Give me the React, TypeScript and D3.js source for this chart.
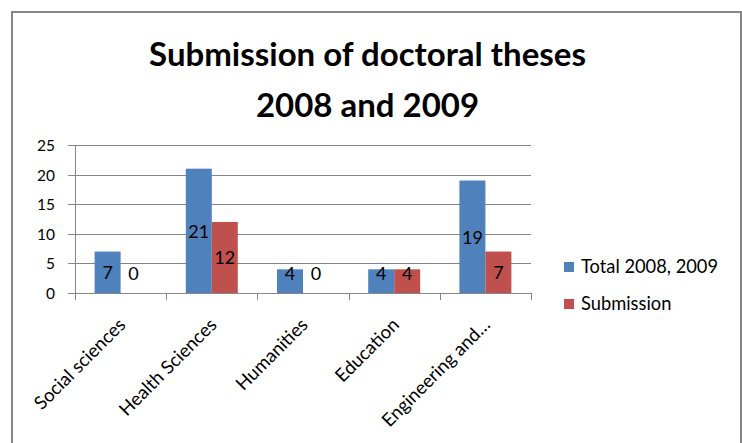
import React from "react";
import * as d3 from "d3";

const categories = ["Social sciences", "Health Sciences", "Humanities", "Education", "Engineering and…"];
const seriesNames = ["Total 2008, 2009", "Submission"];
const totalValues = [7, 21, 4, 4, 19];
const submissionValues = [0, 12, 0, 4, 7];
const seriesColors = ["#4F81BD", "#C0504D"];
const yTicks = [0, 5, 10, 15, 20, 25];
const titleLines = ["Submission of doctoral theses", "2008 and 2009"];

const FONT = "Lato, 'Open Sans', sans-serif";

export default function App() {
  const W = 742, H = 443;
  const left = 75, right = 531, top = 145, bottom = 293;
  const x0 = d3.scaleBand<string>().domain(categories).range([left, right]).paddingInner(0.43).paddingOuter(0.215);
  const x1 = d3.scaleBand<string>().domain(seriesNames).range([0, x0.bandwidth()]);
  const y = d3.scaleLinear().domain([0, 25]).range([bottom, top]);
  const step = x0.step();
  const series = [totalValues, submissionValues];
  const grid = "#868686";

  return (
    <div style={{ position: "fixed", left: 0, top: 0 }}>
      <svg width={W} height={H} style={{ display: "block", background: "#fff" }}>
        <rect x={12} y={12} width={729} height={H} fill="#fff" stroke={grid} strokeWidth={2} />
        {titleLines.map((t, i) => (
          <text key={i} x={367.5} y={66 + i * 51} textAnchor="middle" fontFamily={FONT} fontWeight="bold" fontSize={33} fill="#000">
            {t}
          </text>
        ))}
        {yTicks.map((v) => (
          <g key={v}>
            <line x1={68} x2={right} y1={Math.round(y(v)) + 0.5} y2={Math.round(y(v)) + 0.5} stroke={grid} strokeWidth={1} />
            <text x={55} y={y(v)} textAnchor="end" dominantBaseline="central" fontFamily={FONT} fontSize={15.5} fill="#000">
              {v}
            </text>
          </g>
        ))}
        <line x1={left + 0.5} x2={left + 0.5} y1={top} y2={bottom} stroke={grid} strokeWidth={1} />
        {d3.range(categories.length + 1).map((i) => (
          <line key={i} x1={Math.round(left + i * step) + 0.5} x2={Math.round(left + i * step) + 0.5} y1={bottom} y2={bottom + 7} stroke={grid} strokeWidth={1} />
        ))}
        {categories.map((c, ci) => (
          <g key={c}>
            {series.map((vals, si) => {
              const bx = (x0(c) as number) + (x1(seriesNames[si]) as number);
              const bw = x1.bandwidth();
              const v = vals[ci];
              const yTop = y(v);
              const mid = (yTop + y(0)) / 2;
              const ly = Math.min(mid, y(0) - 20);
              return (
                <g key={si}>
                  {v > 0 && <rect x={bx} y={yTop} width={bw} height={y(0) - yTop} fill={seriesColors[si]} />}
                  <text x={bx + bw / 2} y={ly} textAnchor="middle" dominantBaseline="central" fontFamily={FONT} fontSize={18} fill="#000">
                    {v}
                  </text>
                </g>
              );
            })}
            <text
              transform={`translate(${(x0(c) as number) + x0.bandwidth() / 2 + 6},${bottom + 33}) rotate(-45)`}
              textAnchor="end"
              fontFamily={FONT}
              fontSize={18.5}
              fill="#000"
            >
              {c}
            </text>
          </g>
        ))}
        {seriesNames.map((s, i) => (
          <g key={s}>
            <rect x={564} y={262 + i * 37} width={10} height={10} fill={seriesColors[i]} />
            <text x={581} y={273 + i * 37} fontFamily={FONT} fontSize={18.3} fill="#000">
              {s}
            </text>
          </g>
        ))}
      </svg>
    </div>
  );
}
